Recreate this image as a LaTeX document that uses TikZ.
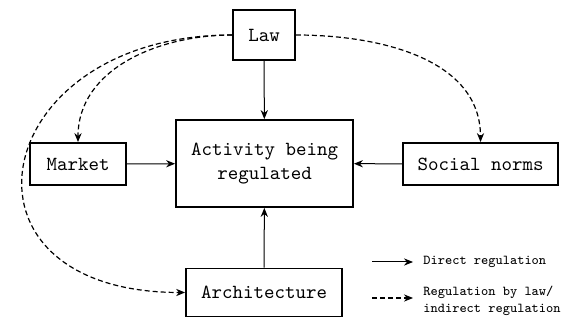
\documentclass[tikz,border=0pt]{standalone}
\usetikzlibrary{arrows.meta}

\tikzset{
  box/.style={draw, line width=0.9pt, font=\ttfamily, align=center, inner sep=2pt},
  direct/.style={-{Stealth[length=4.5pt, width=3.6pt]}, line width=0.5pt},
  indirect/.style={-{Stealth[length=4.5pt, width=3.6pt]}, line width=0.6pt, dash pattern=on 2.5pt off 1.5pt},
  legendtext/.style={font=\ttfamily\fontsize{6.8}{8.2}\selectfont, align=left, anchor=west, inner sep=0pt}
}

\begin{document}
\begin{tikzpicture}[x=0.5pt, y=0.5pt]
  \useasboundingbox (0,0) rectangle (566,320);

  % boxes
  \node[box, minimum width=31pt, minimum height=25pt] (law) at (264,285) {Law};
  \node[box, minimum width=88.5pt, minimum height=43.5pt] (activity) at (264.5,156.5) {Activity being\\regulated};
  \node[box, minimum width=48pt, minimum height=21pt] (market) at (78,156) {Market};
  \node[box, minimum width=77.5pt, minimum height=21pt] (norms) at (480.5,156) {Social norms};
  \node[box, minimum width=78pt, minimum height=24pt] (architecture) at (264,27.5) {Architecture};

  % direct regulation
  \draw[direct] (law) -- (activity);
  \draw[direct] (market) -- (activity);
  \draw[direct] (norms) -- (activity);
  \draw[direct] (architecture) -- (activity);

  % regulation by law
  \draw[indirect] (law.west) to[out=180, in=90] (market.north);
  \draw[indirect] (law.west) to[out=180, in=180, looseness=2.4] (architecture.west);
  \draw[indirect] (law.east) to[out=0, in=90] (norms.north);

  % legend
  \coordinate (d1) at (372,58);
  \coordinate (d2) at (413,58);
  \coordinate (i1) at (372,22);
  \coordinate (i2) at (413,22);
  \draw[direct] (d1) -- (d2);
  \draw[indirect] (i1) -- (i2);
  \node[legendtext] (directlabel) at (423,58) {Direct regulation};
  \node[legendtext] (indirectlabel) at (423,19) {Regulation by law/\\indirect regulation};
\end{tikzpicture}
\end{document}
